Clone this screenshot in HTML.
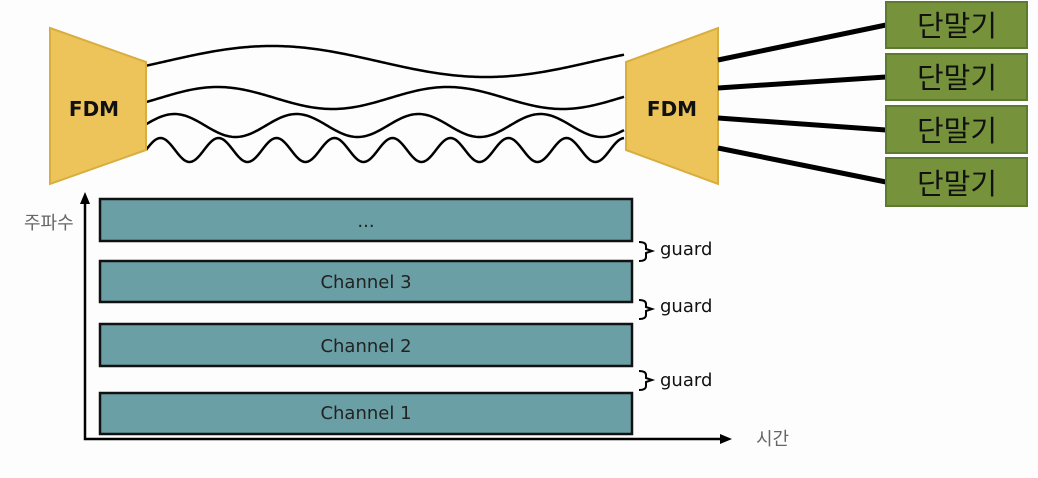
<!DOCTYPE html>
<html><head><meta charset="utf-8"><style>
html,body{margin:0;padding:0;background:#fdfdfd;}
svg{display:block}
text{font-family:"DejaVu Sans","Liberation Sans","Noto Sans CJK KR",sans-serif}
</style></head><body>
<svg id="s" width="1038" height="478" xmlns="http://www.w3.org/2000/svg">
<rect width="1038" height="478" fill="#fdfdfd"/>
<g id="w" fill="none" stroke="#000" stroke-width="2.5"></g>
<polygon points="50,28 146,62 146,150 50,184" fill="#ecc45a" stroke="#d9ad3e" stroke-width="2"/>
<polygon points="626,62 718,28 718,184 626,150" fill="#ecc45a" stroke="#d9ad3e" stroke-width="2"/>
<text x="94" y="116" font-size="20" font-weight="bold" text-anchor="middle" fill="#111">FDM</text>
<text x="672" y="116" font-size="20" font-weight="bold" text-anchor="middle" fill="#111">FDM</text>
<g stroke="#000" stroke-width="5">
<line x1="718" y1="60" x2="886" y2="25"/>
<line x1="718" y1="88" x2="886" y2="77"/>
<line x1="718" y1="118" x2="886" y2="130"/>
<line x1="718" y1="148" x2="886" y2="182"/>
</g>
<g fill="#76933c" stroke="#5e7a2e" stroke-width="2">
<rect x="886" y="2" width="141" height="46"/>
<rect x="886" y="54" width="141" height="46"/>
<rect x="886" y="106" width="141" height="47"/>
<rect x="886" y="158" width="141" height="48"/>
</g>
<g font-size="29" fill="#111" text-anchor="middle" style="font-family:'Noto Sans CJK KR',sans-serif">
<text x="957" y="36">단말기</text>
<text x="957" y="88">단말기</text>
<text x="957" y="141">단말기</text>
<text x="957" y="194">단말기</text>
</g>
<g fill="#6a9fa5" stroke="#111" stroke-width="2.5">
<rect x="100" y="199" width="532" height="42"/>
<rect x="100" y="261" width="532" height="41"/>
<rect x="100" y="324" width="532" height="42"/>
<rect x="100" y="393" width="532" height="41"/>
</g>
<g font-size="18" fill="#222" text-anchor="middle">
<text x="366" y="227">...</text>
<text x="366" y="288">Channel 3</text>
<text x="366" y="352">Channel 2</text>
<text x="366" y="419">Channel 1</text>
</g>
<g stroke="#000" stroke-width="2.5" fill="none">
<polyline points="85,200 85,439 724,439"/>
</g>
<polygon points="85,192 80,204 90,204" fill="#000"/>
<polygon points="732,439 720,434 720,444" fill="#000"/>
<g stroke="#000" stroke-width="2" fill="none">
<path d="M639,242 Q646,242 646,246 L646,249 L652,251 L646,253 L646,257 Q646,261 639,261"/>
<path d="M639,300 Q646,300 646,304 L646,307 L652,309 L646,311 L646,315 Q646,319 639,319"/>
<path d="M639,371 Q646,371 646,375 L646,378 L652,380 L646,382 L646,386 Q646,390 639,390"/>
</g>
<g font-size="18" fill="#111">
<text x="660" y="255">guard</text>
<text x="660" y="312">guard</text>
<text x="660" y="386">guard</text>
</g>
<g font-size="18" fill="#666" style="font-family:'Noto Sans CJK KR',sans-serif">
<text x="24" y="229">주파수</text>
<text x="756" y="445">시간</text>
</g>
</svg>
<script>
var g=document.getElementById('w');
function add(f){var d='';for(var x=146;x<=624;x+=2){d+=(x==146?'M':'L')+x+','+f(x).toFixed(2)+' ';}
var p=document.createElementNS('http://www.w3.org/2000/svg','path');p.setAttribute('d',d);g.appendChild(p);}
add(function(x){return 61.5-15.5*Math.sin(2*Math.PI*(x-165)/428);});
add(function(x){return 98-11*Math.sin(2*Math.PI*(x-160)/230);});
add(function(x){return 125.5-11.5*Math.sin(2*Math.PI*(x-144)/122);});
add(function(x){return 150-12*Math.sin(2*Math.PI*(x-146)/58);});
</script>
</body></html>
